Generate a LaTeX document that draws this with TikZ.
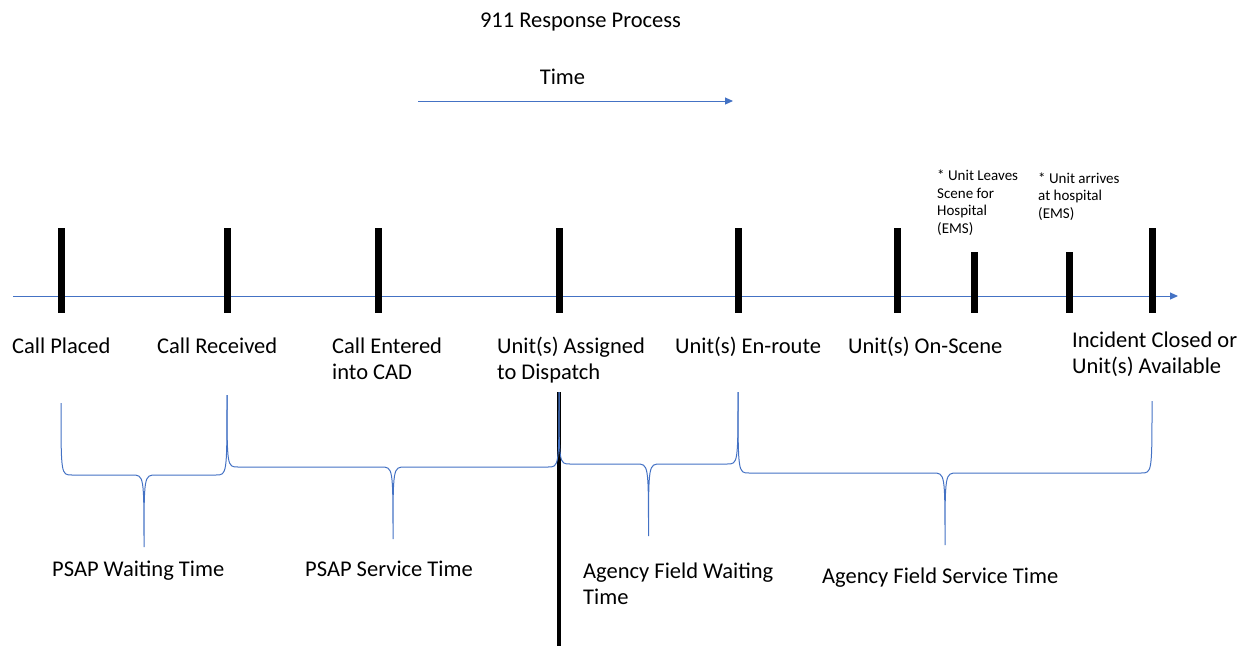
\documentclass[tikz,border=0pt]{standalone}
\usepackage{fontspec}
\setmainfont{Carlito}
\usetikzlibrary{calc,arrows.meta}

\definecolor{officeblue}{HTML}{4472C4}

\tikzset{
  tickbar/.style={fill=black,inner sep=0pt,minimum width=7pt,minimum height=85pt},
  shorttickbar/.style={tickbar,minimum height=61pt},
  steptext/.style={anchor=base west,inner sep=0pt,align=left,font=\fontsize{22.5}{26}\selectfont},
  headtext/.style={anchor=base,inner sep=0pt,font=\fontsize{22.5}{26}\selectfont},
  notetext/.style={anchor=base west,inner sep=0pt,align=left,font=\fontsize{15}{17.5}\selectfont},
  timeline/.style={officeblue,line width=1pt,-{Triangle[length=8pt,width=7pt]}},
  brace/.style={officeblue,line width=1pt}
}

% brace between two ticks: left tick, right tick, left top, right top, bar height
\newcommand\timebrace[5]{%
  \coordinate (bl) at (#1 |- 0,#5);
  \coordinate (br) at (#2 |- 0,#5);
  \coordinate (bm) at ($(bl)!.5!(br)$);
  \draw[brace] (#1 |- 0,#3) .. controls (bl) .. ($(bl)+(11,0)$)
    -- ($(bm)+(-12,0)$) .. controls (bm) .. ($(bm)+(0,72)$)
    .. controls (bm) .. ($(bm)+(12,0)$)
    -- ($(br)+(-11,0)$) .. controls (br) .. (#2 |- 0,#4);
}

\begin{document}
\begin{tikzpicture}[x=1pt,y=-1pt]
  \useasboundingbox (0,0) rectangle (1252,646);

  \node[headtext] (title) at (580.5,27) {911 Response Process};
  \node[headtext] (time) at (562.5,84) {Time};
  \coordinate (timestart) at (418,101);
  \coordinate (timeend) at (733,101);
  \draw[timeline] (timestart) -- (timeend);

  % axis
  \coordinate (axisstart) at (13,296);
  \coordinate (axisend) at (1178,296);
  \draw[timeline] (axisstart) -- (axisend);

  % ticks
  \node[tickbar] (placed) at (61,270.5) {};
  \node[tickbar] (received) at (227,270.5) {};
  \node[tickbar] (entered) at (378,270.5) {};
  \node[tickbar] (assigned) at (559,270.5) {};
  \node[tickbar] (enroute) at (738,270.5) {};
  \node[tickbar] (onscene) at (897,270.5) {};
  \node[shorttickbar] (leaves) at (974,282.5) {};
  \node[shorttickbar] (arrives) at (1069,282.5) {};
  \node[tickbar] (closed) at (1152,270.5) {};

  % tick labels (multi-line ones sit on their last line)
  \node[steptext] (placedtext) at (12,353) {Call Placed};
  \node[steptext] (receivedtext) at (157,353) {Call Received};
  \node[steptext] (enteredtext) at (332,379) {Call Entered\\into CAD};
  \node[steptext] (assignedtext) at (497,379) {Unit(s) Assigned\\to Dispatch};
  \node[steptext] (enroutetext) at (675,353) {Unit(s) En-route};
  \node[steptext] (onscenetext) at (848,353) {Unit(s) On-Scene};
  \node[steptext] (closedtext) at (1072,373) {Incident Closed or\\Unit(s) Available};
  \node[notetext] (leavestext) at (937,233) {* Unit Leaves\\Scene for\\Hospital\\(EMS)};
  \node[notetext] (arrivestext) at (1038,218) {* Unit arrives\\at hospital\\(EMS)};

  % dispatch divider
  \draw[line width=4pt] (assigned |- 0,392) -- (assigned |- 0,646);

  % braces
  \timebrace{placed}{received}{403}{395}{475}
  \timebrace{received}{assigned}{395}{392}{467}
  \timebrace{assigned}{enroute}{392}{392}{464}
  \timebrace{enroute}{closed}{392}{401}{473}

  \node[steptext] (psapwait) at (52,576) {PSAP Waiting Time};
  \node[steptext] (psapservice) at (305,576) {PSAP Service Time};
  \node[steptext] (fieldwait) at (583,604) {Agency Field Waiting\\Time};
  \node[steptext] (fieldservice) at (822,583) {Agency Field Service Time};
\end{tikzpicture}
\end{document}
